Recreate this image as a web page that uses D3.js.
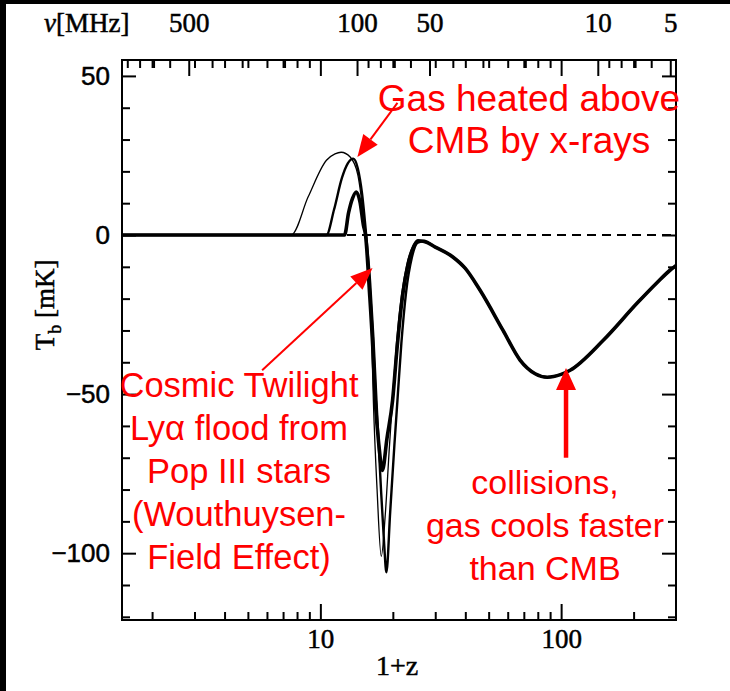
<!DOCTYPE html>
<meta charset="utf-8">
<script src="https://d3js.org/d3.v7.min.js"></script>
<style>
  body { margin: 0; background: #fff; }
</style>
<div id="chart"></div>
<script>
// tick values
var zMajor = [10, 100];
var zMinor = [2, 3, 4, 5, 6, 7, 8, 9, 20, 30, 40, 50, 60, 70, 80, 90, 200];
var nuMajor = [500, 100, 50, 10, 5];
var nuMinor = [900, 800, 700, 600, 400, 300, 200, 90, 80, 70, 60, 40, 30, 20, 9, 8, 7, 6];
var tbMajor = [-100, -50, 0, 50];
var tbMinor = [-120, -110, -90, -80, -70, -60, -40, -30, -20, -10, 10, 20, 30, 40];

// curves: [1+z, Tb in mK]
var thinCurve = [[1.5,0],[7.57,0],[8.9,12],[10.6,23.5],[11.5,25.5],[12.2,26],[13.3,24.5],[14.3,19],[15.0,8],[15.4,0],[15.9,-15],[16.3,-30],[16.6,-52],[17.2,-80],[17.9,-101],[18.6,-88],[19.3,-68],[20,-50],[20.7,-34],[21.7,-19],[23,-8.5],[24.3,-3.3],[25.4,-1.8]];
var mediumCurve = [[1.5,0],[10.6,0],[11.4,8],[12.3,18],[13.0,22.5],[13.7,24],[14.3,21],[14.9,13],[15.5,0],[16.1,-15],[16.6,-32],[17.1,-52],[17.8,-78],[18.4,-97],[18.8,-106],[19.5,-87],[20.3,-66],[20.9,-52],[21.7,-34],[22.7,-18],[24,-7],[25.4,-2.4]];
var thickCurve = [[1.5,0],[12.6,0],[13.1,7],[13.6,11.5],[14.1,13.5],[14.6,10.5],[15.1,3],[15.4,0],[16.0,-18],[16.5,-35],[16.9,-52],[17.5,-66],[18.1,-74],[18.9,-64],[19.95,-52],[20.8,-36],[21.8,-21],[23,-10],[24.3,-4],[25.4,-1.8]];
var sharedTail = [[27,-2],[30,-3.8],[35.5,-6.9],[40,-10.5],[46,-17.3],[57.3,-29.9],[67.5,-39.3],[78,-43.6],[87.5,-44.7],[100,-43.8],[109,-42.5],[150,-33],[207,-21.4],[250,-15],[284,-11],[300,-9.6]];

var noteHeated = ["Gas heated above", "CMB by x-rays"];
var noteTwilight = ["Cosmic Twilight", "Ly\u03b1 flood from", "Pop III stars", "(Wouthuysen-", "Field Effect)"];
var noteCollisions = ["collisions,", "gas cools faster", "than CMB"];

var W = 730, H = 691;
var L = 122, R = 676, T = 60, B = 620;

var svg = d3.select("#chart").append("svg")
    .attr("width", W).attr("height", H)
    .style("display", "block");

// black strips at the edge of the scan
svg.append("rect").attr("x", 0).attr("y", 0).attr("width", W).attr("height", 4).attr("fill", "#000");
svg.append("rect").attr("x", 0).attr("y", 0).attr("width", 6).attr("height", H).attr("fill", "#000");

var x = d3.scaleLog().domain([1.5, 300]).range([L, R]);
var nu = d3.scaleLog().domain([1420 / 1.5, 1420 / 300]).range([L, R]);
var y = d3.scaleLinear().domain([-121, 55]).range([B, T]);

// zero line
svg.append("line")
    .attr("x1", L).attr("x2", R)
    .attr("y1", y(0)).attr("y2", y(0))
    .attr("stroke", "#000").attr("stroke-width", 2)
    .attr("stroke-dasharray", "9,6");

var line = d3.line()
    .x(function(d) { return x(d[0]); })
    .y(function(d) { return y(d[1]); })
    .curve(d3.curveMonotoneX);

var curves = [
  {data: thinCurve.concat(sharedTail), w: 1.3},
  {data: mediumCurve.concat(sharedTail), w: 2.4},
  {data: thickCurve.concat(sharedTail), w: 3.6}
];
svg.selectAll(".curve").data(curves).enter().append("path")
    .attr("class", "curve")
    .attr("d", function(d) { return line(d.data); })
    .attr("fill", "none")
    .attr("stroke", "#000")
    .attr("stroke-width", function(d) { return d.w; })
    .attr("stroke-linejoin", "round");

// axes
function styleAxis(g) {
  g.select(".domain").remove();
  g.selectAll(".tick line").attr("stroke", "#000").attr("stroke-width", 2);
  g.selectAll("text").attr("fill", "#000");
}

var serif = "'Liberation Serif', 'DejaVu Serif', serif";
var sans = "'Liberation Sans', Arial, sans-serif";

function labelStyle(sel, family, size) {
  sel.style("font-family", family).style("font-size", size)
     .attr("stroke", "#000").attr("stroke-width", 0.5);
}

svg.append("g").attr("transform", "translate(0," + B + ")")
    .call(d3.axisBottom(x).tickValues(zMinor).tickSize(-8).tickFormat(""))
    .call(styleAxis);
svg.append("g").attr("transform", "translate(0," + B + ")")
    .call(d3.axisBottom(x).tickValues(zMajor).tickSize(-16).tickPadding(9).tickFormat(d3.format("d")))
    .call(styleAxis)
    .selectAll("text").call(labelStyle, serif, "27px");

// top: mirrored 1+z ticks plus frequency ticks
svg.append("g").attr("transform", "translate(0," + T + ")")
    .call(d3.axisTop(x).tickValues(zMinor).tickSize(-8).tickFormat(""))
    .call(styleAxis);
svg.append("g").attr("transform", "translate(0," + T + ")")
    .call(d3.axisTop(x).tickValues(zMajor).tickSize(-16).tickFormat(""))
    .call(styleAxis);
svg.append("g").attr("transform", "translate(0," + T + ")")
    .call(d3.axisTop(nu).tickValues(nuMinor).tickSize(-8).tickFormat(""))
    .call(styleAxis);
svg.append("g").attr("transform", "translate(0," + T + ")")
    .call(d3.axisTop(nu).tickValues(nuMajor).tickSize(-16).tickPadding(28).tickFormat(d3.format("d")))
    .call(styleAxis)
    .selectAll("text").call(labelStyle, serif, "27px");

svg.append("g").attr("transform", "translate(" + L + ",0)")
    .call(d3.axisLeft(y).tickValues(tbMinor).tickSize(-8).tickFormat(""))
    .call(styleAxis);
svg.append("g").attr("transform", "translate(" + L + ",0)")
    .call(d3.axisLeft(y).tickValues(tbMajor).tickSize(-14).tickPadding(12)
      .tickFormat(function(d) { return d < 0 ? "\u2212" + Math.abs(d) : d; }))
    .call(styleAxis)
    .selectAll("text").call(labelStyle, sans, "26px");

svg.append("g").attr("transform", "translate(" + R + ",0)")
    .call(d3.axisRight(y).tickValues(tbMinor).tickSize(-8).tickFormat(""))
    .call(styleAxis);
svg.append("g").attr("transform", "translate(" + R + ",0)")
    .call(d3.axisRight(y).tickValues(tbMajor).tickSize(-14).tickFormat(""))
    .call(styleAxis);

// frame
svg.append("rect")
    .attr("x", L).attr("y", T).attr("width", R - L).attr("height", B - T)
    .attr("fill", "none").attr("stroke", "#000").attr("stroke-width", 2);

// axis titles
svg.append("text")
    .attr("x", 397).attr("y", 675)
    .attr("text-anchor", "middle")
    .call(labelStyle, serif, "28px")
    .text("1+z");

var yt = svg.append("text")
    .attr("transform", "translate(54,305) rotate(-90)")
    .attr("text-anchor", "middle")
    .call(labelStyle, serif, "27px");
yt.append("tspan").text("T");
yt.append("tspan").attr("dy", 7).style("font-size", "18px").text("b");
yt.append("tspan").attr("dy", -7).text(" [mK]");

var nt = svg.append("text")
    .attr("x", 44).attr("y", 32)
    .call(labelStyle, serif, "27px");
nt.append("tspan").style("font-style", "italic").text("\u03bd");
nt.append("tspan").text("[MHz]");

// red notes
function note(lines, cx, y0, step, size) {
  svg.append("g").selectAll("text").data(lines).enter().append("text")
      .attr("x", cx)
      .attr("y", function(d, i) { return y0 + i * step; })
      .attr("text-anchor", "middle")
      .attr("fill", "#ff0000")
      .style("font-family", sans).style("font-size", size)
      .text(function(d) { return d; });
}
note(noteHeated, 529, 111, 42, "37px");
note(noteTwilight, 239, 397, 43, "34.5px");
note(noteCollisions, 545, 494, 43, "34px");

// red arrows, ends given in data units
function arrow(from, to, w, headLen, headHalf) {
  var x0 = x(from[0]), y0 = y(from[1]), x1 = x(to[0]), y1 = y(to[1]);
  var dx = x1 - x0, dy = y1 - y0, len = Math.sqrt(dx * dx + dy * dy);
  var ux = dx / len, uy = dy / len;
  var bx = x1 - ux * headLen, by = y1 - uy * headLen;
  svg.append("line")
      .attr("x1", x0).attr("y1", y0).attr("x2", bx).attr("y2", by)
      .attr("stroke", "#ff0000").attr("stroke-width", w);
  svg.append("path")
      .attr("d", "M" + x1 + "," + y1 +
                 "L" + (bx - uy * headHalf) + "," + (by + ux * headHalf) +
                 "L" + (bx + uy * headHalf) + "," + (by - ux * headHalf) + "Z")
      .attr("fill", "#ff0000");
}
arrow([20.9, 41.5], [14.25, 24.5], 2, 22, 9);
arrow([5.73, -42.5], [16.47, -10.4], 2, 22, 9);
arrow([104.8, -70], [104.8, -41.8], 4.5, 22, 10);
</script>
